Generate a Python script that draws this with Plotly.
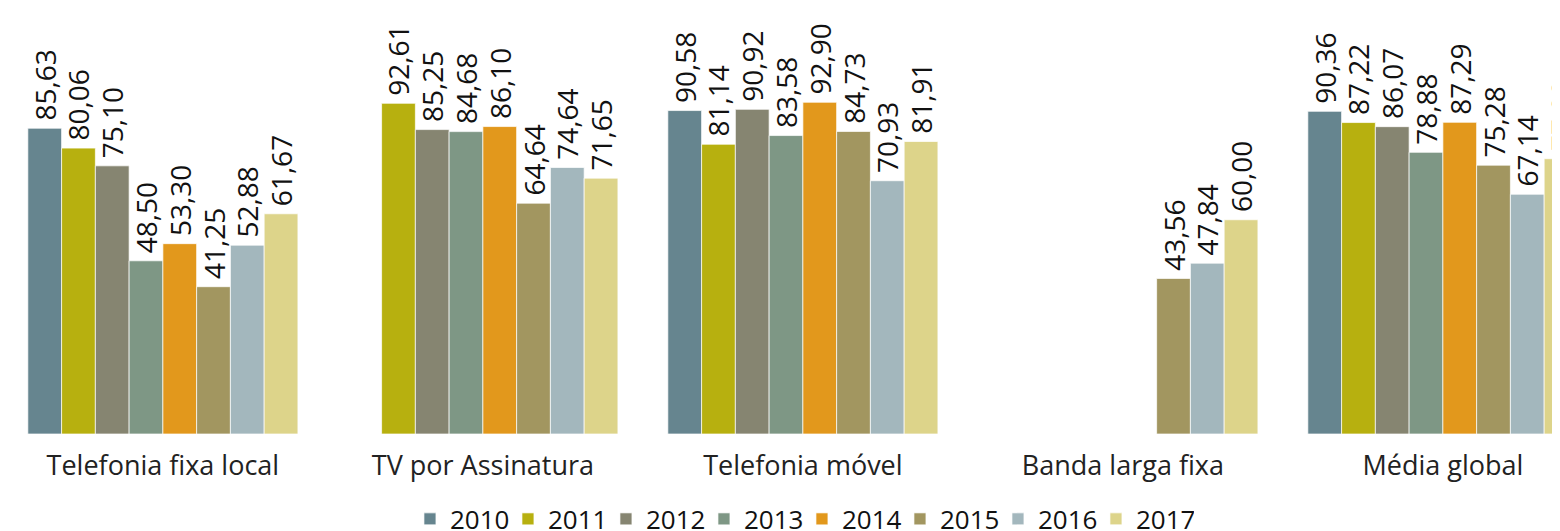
import plotly.graph_objects as go

categories = ["Telefonia fixa local", "TV por Assinatura", "Telefonia móvel", "Banda larga fixa", "Média global"]
years = ["2010", "2011", "2012", "2013", "2014", "2015", "2016", "2017"]

v2010 = [85.63, None, 90.58, None, 90.36]
v2011 = [80.06, 92.61, 81.14, None, 87.22]
v2012 = [75.10, 85.25, 90.92, None, 86.07]
v2013 = [48.50, 84.68, 83.58, None, 78.88]
v2014 = [53.30, 86.10, 92.90, None, 87.29]
v2015 = [41.25, 64.64, 84.73, 43.56, 75.28]
v2016 = [52.88, 74.64, 70.93, 47.84, 67.14]
v2017 = [61.67, 71.65, 81.91, 60.00, 77.09]

series = [v2010, v2011, v2012, v2013, v2014, v2015, v2016, v2017]
colors = ["#66858f", "#b7b00f", "#868571", "#7e9785", "#e2981c", "#a29660", "#a3b7bd", "#ddd48a"]

FONT = "Open Sans"

def fmt(v):
    return "" if v is None else "\u2009" + f"{v:.2f}".replace(".", ",")

fig = go.Figure()
for yr, vals, col in zip(years, series, colors):
    fig.add_trace(go.Bar(
        name=yr, x=categories, y=vals,
        marker=dict(color=col, line=dict(color="rgba(255,255,255,0.7)", width=1)),
        text=[fmt(v) for v in vals], textposition="outside", textangle=-90,
        constraintext="none", cliponaxis=True,
        textfont=dict(family=FONT, size=28, color="#111111"),
    ))

fig.update_layout(
    width=1552, height=523,
    margin=dict(l=0, r=0, t=0, b=97, autoexpand=False),
    paper_bgcolor="white", plot_bgcolor="white",
    barmode="group", bargap=0.156, bargroupgap=0,
    font=dict(family=FONT, color="#222222"),
    xaxis=dict(range=[-0.484, 4.366], showgrid=False, showline=False, zeroline=False,
               ticks="", tickfont=dict(family=FONT, size=27, color="#222222"),
               ticklabelstandoff=13, automargin=False),
    yaxis=dict(range=[0, 119.3], visible=False, automargin=False),
    legend=dict(orientation="h", x=0.259, xanchor="left", yref="container", y=0.023, yanchor="middle",
                font=dict(family=FONT, size=26, color="#111111"), itemwidth=30,
                entrywidth=53, entrywidthmode="pixels",
                tracegroupgap=0),
    showlegend=True,
)

fig.write_html("out.html")
